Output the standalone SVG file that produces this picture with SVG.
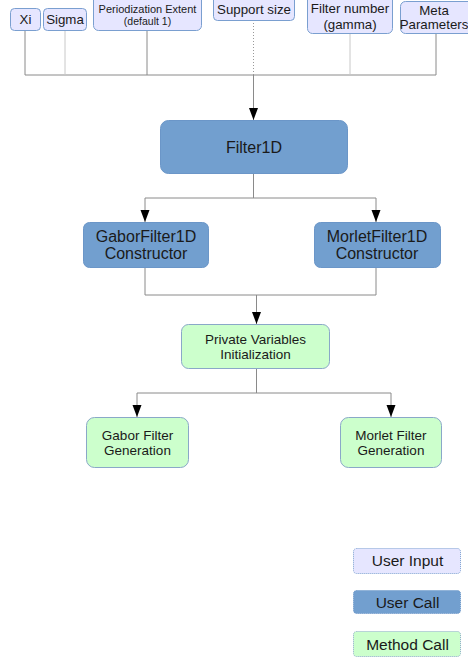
<svg xmlns="http://www.w3.org/2000/svg" width="468" height="658" viewBox="0 0 468 658">
<style>
text{font-family:"Liberation Sans",Arial,sans-serif;fill:#1a1a1a;text-anchor:middle}
.ui{fill:#e6e6ff;stroke:#7a9fd0;stroke-width:1}
.uc{fill:#729fcf;stroke:#6b96c8;stroke-width:1}
.mc{fill:#ccffcc;stroke:#8aa8c8;stroke-width:1}
.ln{fill:none;stroke:#8a8a8a;stroke-width:1}
.lt{fill:none;stroke:#c8c8c8;stroke-width:1}
.ar{marker-end:url(#ah)}
.t13{font-size:13.3px}
.t11{font-size:11px}
.t16{font-size:16px}
.t135{font-size:13.5px}
.t155{font-size:15.5px}
</style>
<defs>
<marker id="ah" markerWidth="12" markerHeight="10" refX="12" refY="5" orient="auto" markerUnits="userSpaceOnUse" viewBox="0 0 12 10">
<path d="M0,0.5 L12,5 L0,9.5 Z" fill="#000"/>
</marker>
</defs>
<g id="connectors">
<path class="ln" d="M25,30 V75 H436 V33"/>
<path class="lt" d="M65,30 V75"/>
<path class="ln" d="M147,30 V75"/>
<path class="lt" d="M350,33 V75"/>
<path d="M253.5,20 V75" fill="none" stroke="#999" stroke-width="1" stroke-dasharray="1,2"/>
<path class="ln ar" d="M253.5,75 V120" stroke="#555"/>
<path class="ln" d="M253.5,173 V198 M145,198 H376"/>
<path class="ln ar" d="M145,198 V222"/>
<path class="ln ar" d="M376,198 V222"/>
<path class="ln" d="M145,267 V295 H376 V267"/>
<path class="ln ar" d="M256.5,295 V324"/>
<path class="ln" d="M256.5,368 V393 M137,393 H391"/>
<path class="ln ar" d="M137,393 V417"/>
<path class="ln ar" d="M391,393 V417"/>
</g>
<g id="xi"><rect class="ui" x="10.5" y="8.5" width="30" height="22" rx="4"/><text class="t13" x="25.5" y="24">Xi</text></g>
<g id="sigma"><rect class="ui" x="43.5" y="8.5" width="43" height="22" rx="4"/><text class="t13" x="65" y="24">Sigma</text></g>
<g id="periodization"><rect class="ui" x="93.5" y="-5.5" width="108" height="36" rx="5"/><text class="t11" x="147.5" y="12.5">Periodization Extent</text><text class="t11" x="147.5" y="25" style="font-size:10.5px">(default 1)</text></g>
<g id="support"><rect class="ui" x="213.5" y="-5.5" width="81" height="26" rx="4"/><text class="t13" x="254" y="14">Support size</text></g>
<g id="filternumber"><rect class="ui" x="307.5" y="-5.5" width="85" height="39" rx="5"/><text class="t13" x="350" y="13">Filter number</text><text class="t13" x="350" y="28.5">(gamma)</text></g>
<g id="meta"><rect class="ui" x="400.5" y="1.5" width="75" height="32" rx="5"/><text class="t13" x="434" y="15">Meta</text><text class="t13" x="434" y="29">Parameters</text></g>
<g id="filter1d"><rect class="uc" x="160.5" y="120.5" width="187" height="53" rx="8"/><text class="t16" x="254" y="152.5">Filter1D</text></g>
<g id="gabor-ctor"><rect class="uc" x="83.5" y="222.5" width="125" height="45" rx="6"/><text class="t16" x="146" y="241.5">GaborFilter1D</text><text class="t16" x="146" y="259">Constructor</text></g>
<g id="morlet-ctor"><rect class="uc" x="314.5" y="222.5" width="126" height="45" rx="6"/><text class="t16" x="377" y="241.5">MorletFilter1D</text><text class="t16" x="377" y="259">Constructor</text></g>
<g id="private"><rect class="mc" x="181.5" y="324.5" width="148" height="44" rx="7"/><text class="t135" x="255.5" y="344">Private Variables</text><text class="t135" x="255.5" y="359">Initialization</text></g>
<g id="gabor-gen"><rect class="mc" x="86.5" y="417.5" width="102" height="50" rx="8"/><text class="t135" x="137.5" y="440">Gabor Filter</text><text class="t135" x="137.5" y="454.5">Generation</text></g>
<g id="morlet-gen"><rect class="mc" x="340.5" y="417.5" width="101" height="50" rx="8"/><text class="t135" x="391" y="440">Morlet Filter</text><text class="t135" x="391" y="454.5">Generation</text></g>
<g id="legend-input"><rect class="ui" x="353.5" y="548.5" width="107" height="25" rx="3" stroke-dasharray="1,1"/><text class="t155" x="407.5" y="566">User Input</text></g>
<g id="legend-call"><rect class="uc" x="353.5" y="590.5" width="107" height="23" rx="3" stroke-dasharray="1,1"/><text class="t155" x="407.5" y="608">User Call</text></g>
<g id="legend-method"><rect class="mc" x="353.5" y="631.5" width="107" height="25" rx="3" stroke-dasharray="1,1"/><text class="t155" x="407.5" y="649.5">Method Call</text></g>
</svg>
